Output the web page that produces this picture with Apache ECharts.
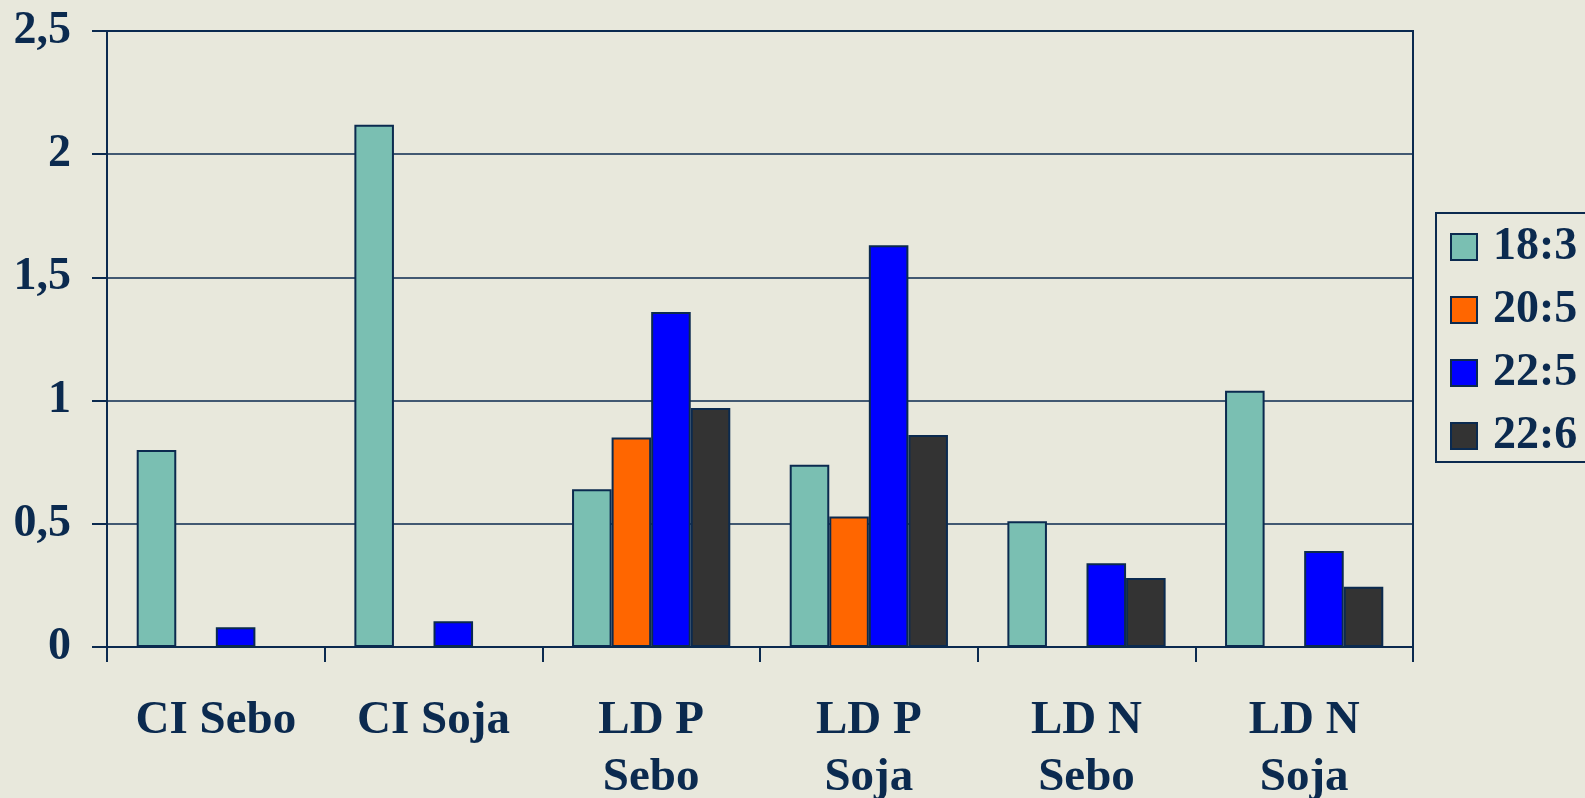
<!DOCTYPE html>
<html>
<head>
<meta charset="utf-8">
<title>chart</title>
<script src="https://cdn.jsdelivr.net/npm/echarts@6/dist/echarts.min.js"></script>
<style>
    html, body {margin:0; padding:0; background:#e8e8dc;}
    #echarts {width:1585px; height:798px;}
</style>
</head>
<body>
<div id="echarts"></div>
<script>
// 数据
var categories = ['CI Sebo', 'CI Soja', 'LD P\nSebo', 'LD P\nSoja', 'LD N\nSebo', 'LD N\nSoja'];
var seriesNames = ['18:3', '20:5', '22:5', '22:6'];
var s183 = [0.80, 2.12, 0.64, 0.74, 0.51, 1.04];
var s205 = ['-', '-', 0.85, 0.53, '-', '-'];
var s225 = [0.08, 0.105, 1.36, 1.63, 0.34, 0.39];
var s226 = ['-', '-', 0.97, 0.86, 0.28, 0.245];
var yTicks = [0, 0.5, 1, 1.5, 2, 2.5];

var navy = '#0b2a4f';
var font = 'Liberation Serif';
var colors = ['#7abfb2', '#ff6600', '#0000ff', '#333333'];
var allData = [s183, s205, s225, s226];

var series = [];
for(var i=0;i<seriesNames.length;i++){
    series.push({
        name:seriesNames[i],
        type:'bar',
        barGap:'0%',
        barCategoryGap:'27.3%',
        itemStyle:{color:colors[i], borderColor:navy, borderWidth:2},
        data:allData[i]
    });
}

var myChart = echarts.init(document.getElementById('echarts'));
option = {
    backgroundColor:'#e8e8dc',
    animation:false,
    color:colors,
    grid:{
        left:107, top:31, right:172, bottom:151,
        outerBoundsMode:'none',
        show:true, borderColor:navy, borderWidth:2
    },
    legend:{
        orient:'vertical',
        left:1436, top:213,
        icon:'rect',
        itemWidth:26, itemHeight:26, itemGap:17,
        padding:[11, 30, 3, 14],
        borderColor:navy, borderWidth:2,
        itemStyle:{borderColor:navy, borderWidth:2},
        textStyle:{color:navy, fontFamily:font, fontWeight:'bold', fontSize:46, lineHeight:46, padding:[0,0,0,11]},
        data:seriesNames
    },
    xAxis:{
        type:'category',
        data:categories,
        axisLine:{lineStyle:{color:navy, width:2}},
        axisTick:{show:true, length:15, lineStyle:{color:navy, width:2}},
        axisLabel:{
            color:navy, fontFamily:font, fontWeight:'bold', fontSize:47, lineHeight:57,
            margin:45, interval:0
        }
    },
    yAxis:{
        type:'value',
        min:yTicks[0], max:yTicks[yTicks.length-1], interval:0.5,
        axisLine:{show:true, lineStyle:{color:navy, width:2}},
        axisTick:{show:true, length:15, lineStyle:{color:navy, width:2}},
        splitLine:{lineStyle:{color:navy, width:1.5}},
        axisLabel:{
            color:navy, fontFamily:font, fontWeight:'bold', fontSize:46,
            margin:36,
            formatter:function (v) {
                return String(v).replace('.', ',');
            }
        }
    },
    series:series
};
myChart.setOption(option);
</script>
</body>
</html>
